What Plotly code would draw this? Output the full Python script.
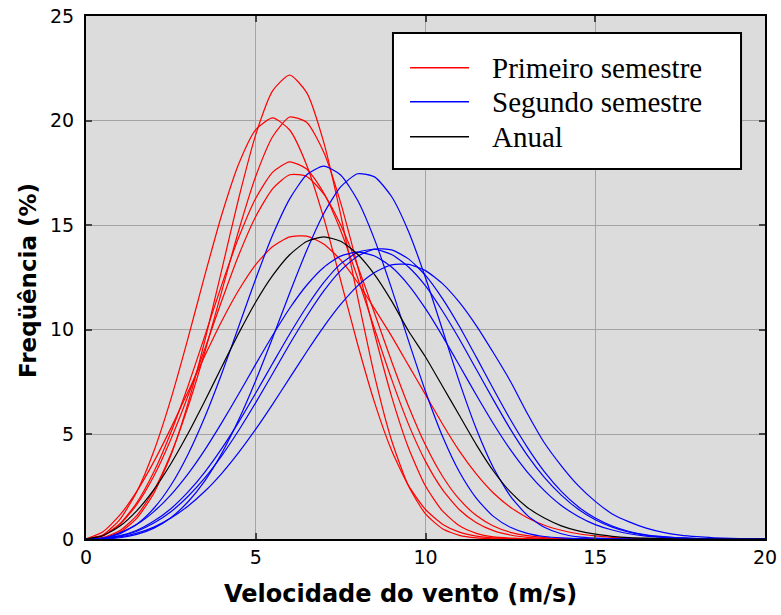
import plotly.graph_objects as go

# Wind speed bins (m/s)
speed = [0, 0.5, 1, 1.5, 2, 2.5, 3, 3.5, 4, 4.5, 5, 5.5, 6, 6.5, 7, 7.5, 8, 8.5, 9, 9.5,
         10, 10.5, 11, 11.5, 12, 12.5, 13, 13.5, 14, 14.5, 15, 15.5, 16, 16.5, 17, 17.5,
         18, 18.5, 19, 19.5, 20]

# First-semester frequency distributions (%)
first_1 = [0, 0.05, 0.32, 1.0, 2.19, 4.0, 6.46, 9.48, 12.88, 16.3, 19.33, 21.43, 22.18, 21.34,
           18.98, 15.52, 11.57, 7.8, 4.72, 2.53, 1.2, 0.49, 0.17, 0.05, 0.01, 0, 0, 0, 0, 0,
           0, 0, 0, 0, 0, 0, 0, 0, 0, 0, 0]
first_2 = [0, 0.2, 0.94, 2.27, 4.21, 6.69, 9.57, 12.61, 15.51, 17.94, 19.57, 20.13, 19.55, 17.87,
           15.36, 12.37, 9.31, 6.52, 4.24, 2.55, 1.41, 0.71, 0.33, 0.14, 0.05, 0.02, 0, 0, 0, 0,
           0, 0, 0, 0, 0, 0, 0, 0, 0, 0, 0]
first_3 = [0, 0.07, 0.4, 1.13, 2.33, 4.06, 6.29, 8.94, 11.85, 14.76, 17.34, 19.24, 20.17, 19.92,
           18.5, 16.08, 13.04, 9.81, 6.82, 4.35, 2.53, 1.34, 0.63, 0.27, 0.1, 0.04, 0.01, 0, 0, 0,
           0, 0, 0, 0, 0, 0, 0, 0, 0, 0, 0]
first_4 = [0, 0.16, 0.73, 1.74, 3.21, 5.09, 7.29, 9.71, 12.16, 14.42, 16.29, 17.54, 18.03, 17.69,
           16.55, 14.75, 12.49, 10.04, 7.64, 5.48, 3.71, 2.36, 1.4, 0.78, 0.4, 0.19, 0.08, 0.03, 0, 0,
           0, 0, 0, 0, 0, 0, 0, 0, 0, 0, 0]
first_5 = [0, 0.16, 0.7, 1.65, 3.01, 4.77, 6.82, 9.09, 11.4, 13.58, 15.42, 16.75, 17.41, 17.33,
           16.5, 15.02, 13.05, 10.79, 8.5, 6.35, 4.49, 3.0, 1.89, 1.12, 0.62, 0.32, 0.16, 0.07, 0.03, 0.01,
           0, 0, 0, 0, 0, 0, 0, 0, 0, 0, 0]
first_6 = [0, 0.35, 1.15, 2.29, 3.7, 5.3, 7.02, 8.76, 10.42, 11.9, 13.12, 13.98, 14.44, 14.48,
           14.1, 13.34, 12.26, 11.0, 9.7, 8.3, 6.9, 5.5, 4.2, 3.1, 2.2, 1.52, 1.02, 0.66, 0.42, 0.25,
           0.15, 0.08, 0.04, 0.02, 0, 0, 0, 0, 0, 0, 0]

# Second-semester frequency distributions (%)
second_1 = [0, 0.04, 0.25, 0.71, 1.47, 2.57, 4.03, 5.83, 7.91, 10.17, 12.44, 14.54, 16.26, 17.41,
            17.82, 17.4, 16.19, 14.31, 11.98, 9.47, 7.05, 4.91, 3.2, 1.94, 1.08, 0.56, 0.27, 0.12, 0.05, 0.02,
            0, 0, 0, 0, 0, 0, 0, 0, 0, 0, 0]
second_2 = [0, 0, 0.06, 0.22, 0.52, 1.02, 1.77, 2.78, 4.1, 5.71, 7.58, 9.63, 11.76, 13.79,
            15.55, 16.83, 17.46, 17.31, 16.37, 14.7, 12.49, 10.0, 7.5, 5.25, 3.41, 2.05, 1.13, 0.56, 0.25, 0.1,
            0.04, 0.01, 0, 0, 0, 0, 0, 0, 0, 0, 0]
second_3 = [0, 0.03, 0.14, 0.37, 0.76, 1.3, 2.03, 2.92, 3.99, 5.2, 6.52, 7.91, 9.32, 10.65,
            11.85, 12.83, 13.52, 13.86, 13.82, 13.39, 12.6, 11.49, 10.16, 8.68, 7.17, 5.71, 4.38, 3.22, 2.28, 1.54,
            1.0, 0.62, 0.36, 0.2, 0.11, 0.05, 0.02, 0.01, 0, 0, 0]
second_4 = [0, 0.04, 0.29, 0.7, 1.31, 2.11, 3.1, 4.26, 5.56, 6.94, 8.36, 9.74, 11.03, 12.13,
            12.98, 13.52, 13.71, 13.53, 13.0, 12.14, 11.01, 9.7, 8.29, 6.87, 5.51, 4.27, 3.2, 2.31, 1.6, 1.08,
            0.69, 0.43, 0.25, 0.14, 0.08, 0.04, 0.02, 0.01, 0, 0, 0]
second_5 = [0, 0.02, 0.1, 0.28, 0.57, 1.0, 1.57, 2.28, 3.14, 4.14, 5.25, 6.45, 7.7, 8.95,
            10.14, 11.21, 12.1, 12.74, 13.1, 13.13, 12.83, 12.21, 11.31, 10.19, 8.9, 7.54, 6.0, 4.6, 3.5, 2.55,
            1.8, 1.2, 0.82, 0.52, 0.32, 0.19, 0.11, 0.06, 0.03, 0.01, 0]
second_6 = [0, 0.03, 0.16, 0.42, 0.86, 1.45, 2.24, 3.2, 4.33, 5.6, 6.98, 8.4, 9.8, 11.1,
            12.25, 13.15, 13.7, 13.85, 13.6, 13.0, 12.1, 10.9, 9.55, 8.1, 6.65, 5.25, 4.0, 2.95, 2.1, 1.42,
            0.92, 0.57, 0.33, 0.18, 0.1, 0.05, 0.02, 0.01, 0, 0, 0]

# Whole-year distribution (%)
annual = [0, 0.16, 0.62, 1.36, 2.36, 3.6, 5.03, 6.6, 8.23, 9.84, 11.33, 12.6, 13.59, 14.22,
          14.44, 14.23, 13.61, 12.64, 11.38, 9.94, 8.7, 7.3, 5.9, 4.5, 3.25, 2.25, 1.51, 1.0, 0.63, 0.39,
          0.23, 0.13, 0.07, 0.04, 0.02, 0, 0, 0, 0, 0, 0]

first_semester = [first_1, first_2, first_3, first_4, first_5, first_6]
second_semester = [second_1, second_2, second_3, second_4, second_5, second_6]

legend_labels = ["Primeiro semestre", "Segundo semestre", "Anual"]
legend_colors = ["#ff0000", "#0000ff", "#000000"]

fig = go.Figure()

def add_curve(values, color):
    fig.add_trace(go.Scatter(
        x=speed, y=values, mode="lines",
        line=dict(color=color, width=1.2, shape="spline", smoothing=0.6),
        showlegend=False, hoverinfo="skip",
    ))

for series in first_semester:
    add_curve(series, legend_colors[0])
for series in second_semester:
    add_curve(series, legend_colors[1])
add_curve(annual, legend_colors[2])

axis_common = dict(
    showgrid=True, gridcolor="#a4a4a4", gridwidth=1.3,
    showline=True, linecolor="black", linewidth=2, mirror="ticks",
    ticks="inside", ticklen=6, tickcolor="#444444", tickwidth=1.5,
    zeroline=False, automargin=False,
    tickfont=dict(family="DejaVu Sans", size=19, color="black"),
)

fig.update_xaxes(range=[0, 20], dtick=5, tick0=0, **axis_common)
fig.update_yaxes(range=[0, 25], dtick=5, tick0=0, ticklabelstandoff=6, **axis_common)

# Legend box drawn in paper coordinates
shapes = [dict(type="rect", xref="paper", yref="paper",
               x0=0.4521, x1=0.9647, y0=0.7075, y1=0.9675,
               fillcolor="white", line=dict(color="black", width=2), layer="above")]
annotations = []
rows_y = [0.9011, 0.8361, 0.7692]
for label, color, yy in zip(legend_labels, legend_colors, rows_y):
    shapes.append(dict(type="line", xref="paper", yref="paper",
                       x0=0.4772, x1=0.5641, y0=yy, y1=yy,
                       line=dict(color=color, width=1.5), layer="above"))
    annotations.append(dict(xref="paper", yref="paper", x=0.595, y=yy,
                            xanchor="left", yanchor="middle", showarrow=False,
                            text=label,
                            font=dict(family="Liberation Serif", size=29, color="black")))

# Axis titles
annotations.append(dict(xref="paper", yref="paper", x=0.4639, y=-0.1052,
                        xanchor="center", yanchor="middle", showarrow=False,
                        text="<b>Velocidade do vento (m/s)</b>",
                        font=dict(family="DejaVu Sans", size=24, color="black")))
annotations.append(dict(xref="paper", yref="paper", x=-0.0854, y=0.4933,
                        xanchor="center", yanchor="middle", showarrow=False,
                        textangle=-90,
                        text="<b>Freqüência (%)</b>",
                        font=dict(family="DejaVu Sans", size=23, color="black")))

fig.update_layout(
    width=781, height=615,
    margin=dict(l=86, r=16, t=16, b=76, autoexpand=False),
    paper_bgcolor="white", plot_bgcolor="#dcdcdc",
    shapes=shapes, annotations=annotations,
    showlegend=False,
)

fig.write_html("out.html")
